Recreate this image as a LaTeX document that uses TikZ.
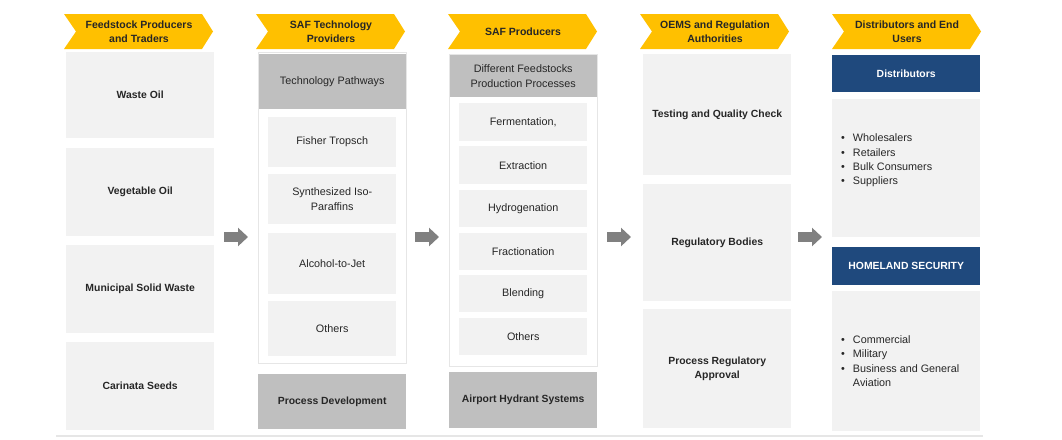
\documentclass[tikz,border=0pt]{standalone}
\usepackage{fontspec}
\setmainfont{Liberation Sans}
\usetikzlibrary{arrows.meta}
\definecolor{hdryellow}{HTML}{FFC000}
\definecolor{cellgray}{HTML}{F2F2F2}
\definecolor{headgray}{HTML}{BFBFBF}
\definecolor{navyblue}{HTML}{1F497D}
\definecolor{arrowgray}{HTML}{808080}
\definecolor{txtgray}{HTML}{262626}
\definecolor{linegray}{HTML}{E6E6E6}
\tikzset{
  cellbase/.style={anchor=north west, inner sep=0pt, align=center, text=txtgray,
    font=\fontsize{10.8}{14.3}\selectfont},
  cell/.style={cellbase, fill=cellgray},
  cellbold/.style={cell, font=\fontsize{10.4}{14.3}\selectfont\bfseries},
  graycell/.style={cellbase, fill=headgray},
  graybold/.style={graycell, font=\fontsize{10.4}{14.3}\selectfont\bfseries},
  bluebar/.style={cellbase, fill=navyblue, text=white, font=\fontsize{10.4}{14.3}\selectfont\bfseries},
  colframe/.style={cellbase, fill=white, draw=linegray, line width=0.6pt},
  sz/.style 2 args={minimum width=#1, minimum height=#2},
  hdrtext/.style={inner sep=0pt, align=center, text=txtgray, font=\fontsize{10.5}{14.3}\selectfont\bfseries},
  bullets/.style={anchor=west, inner sep=0pt, text=txtgray, font=\fontsize{10.8}{14.3}\selectfont},
  blockarrow/.style={draw=arrowgray, line width=10pt, -{Triangle[width=18pt,length=10pt]}},
}
\begin{document}
\begin{tikzpicture}[x=1pt,y=-1pt]
\useasboundingbox (0,0) rectangle (1062,439);
% chevron headers
\foreach \x/\n/\t in {64/hfeed/{Feedstock Producers\\and Traders},
    256/htech/{SAF Technology\\Providers}, 448/hprod/{SAF Producers},
    640/hoems/{OEMS and Regulation\\Authorities}, 832/hdist/{Distributors and End\\Users}}{
  \fill[hdryellow] (\x,14) -- ++(138,0) -- ++(11,17.5) -- ++(-11,17.5) -- ++(-138,0) -- ++(12,-17.5) -- cycle;
  \node[hdrtext] (\n) at (\x+75,31.5) {\t};
}
% feedstock
\node[cellbold, sz={148}{86}] (waste) at (66,52) {Waste Oil};
\node[cellbold, sz={148}{88}] (vegoil) at (66,148) {Vegetable Oil};
\node[cellbold, sz={148}{88}] (msw) at (66,245) {Municipal Solid Waste};
\node[cellbold, sz={148}{88}] (carinata) at (66,342) {Carinata Seeds};
% technology providers
\node[colframe, sz={148}{311}] (techframe) at (258,52) {};
\node[graycell, sz={147}{55}] (pathways) at (258.5,54) {Technology Pathways};
\node[cell, sz={128}{50}] (fischer) at (268,117) {Fisher Tropsch};
\node[cell, sz={128}{50}] (sip) at (268,174) {Synthesized Iso-\\Paraffins};
\node[cell, sz={128}{61}] (atj) at (268,233) {Alcohol-to-Jet};
\node[cell, sz={128}{55}] (techother) at (268,301) {Others};
\node[graybold, sz={148}{55}] (procdev) at (258,374) {Process Development};
% producers
\node[colframe, sz={148}{312}] (prodframe) at (449,54) {};
\node[graycell, sz={147}{42}] (feedproc) at (449.5,55) {Different Feedstocks\\Production Processes};
\node[cell, sz={128}{38}] (ferment) at (459,103) {Fermentation,};
\node[cell, sz={128}{38}] (extract) at (459,146) {Extraction};
\node[cell, sz={128}{37}] (hydro) at (459,190) {Hydrogenation};
\node[cell, sz={128}{37}] (fraction) at (459,233) {Fractionation};
\node[cell, sz={128}{37}] (blend) at (459,275) {Blending};
\node[cell, sz={128}{37}] (prodother) at (459,318) {Others};
\node[graybold, sz={148}{56}] (hydrant) at (449,372) {Airport Hydrant Systems};
% oems and regulation
\node[cellbold, sz={148}{121}] (testing) at (643,54) {Testing and Quality Check};
\node[cellbold, sz={148}{117}] (regbodies) at (643,184) {Regulatory Bodies};
\node[cellbold, sz={148}{119}] (approval) at (643,309) {Process Regulatory\\Approval};
% distributors and end users
\node[bluebar, sz={148}{37}] (distrib) at (832,55) {Distributors};
\node[cell, sz={148}{138}] (distbox) at (832,99) {};
\node[bullets] (distlist) at (841,160.5) {\begin{tabular}{@{}l@{\hspace{8pt}}l@{}}
  • & Wholesalers\\ • & Retailers\\ • & Bulk Consumers\\ • & Suppliers\end{tabular}};
\node[bluebar, sz={148}{38}] (homeland) at (832,247) {HOMELAND SECURITY};
\node[cell, sz={148}{140}] (userbox) at (832,291) {};
\node[bullets] (userlist) at (841,362) {\begin{tabular}{@{}l@{\hspace{8pt}}l@{}}
  • & Commercial\\ • & Military\\ • & Business and General\\ & Aviation\end{tabular}};
% arrows between columns
\foreach \x [count=\i] in {224,415,607,798}{
  \coordinate (as\i) at (\x,237);
  \coordinate (ae\i) at (\x+24,237);
  \draw[blockarrow] (as\i) -- (ae\i);
}
\draw[linegray, line width=1.5pt] (56,436) -- (983,436);
\end{tikzpicture}
\end{document}
